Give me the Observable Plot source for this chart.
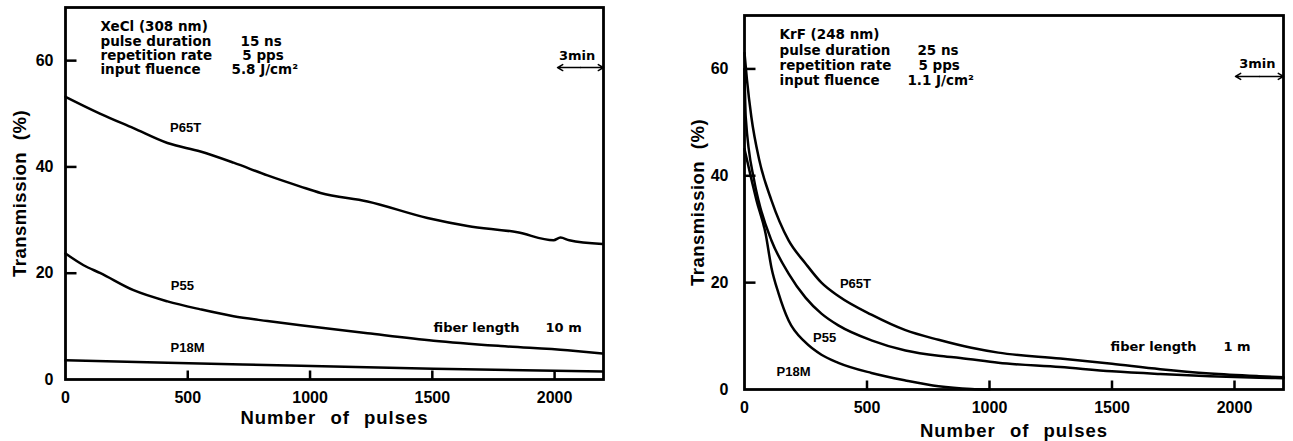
<!DOCTYPE html>
<html><head><meta charset="utf-8">
<script src="https://cdn.jsdelivr.net/npm/d3@7"></script>
<script src="https://cdn.jsdelivr.net/npm/@observablehq/plot@0.6"></script>
<style>
body{margin:0;background:#fff;}
#wrap{display:flex;width:1293px;height:441px;}
svg{overflow:visible;}
g[aria-label="x-axis label"] text{font-size:18.5px;letter-spacing:1px;word-spacing:8px;}
g[aria-label="y-axis label"] text{font-size:18.5px;letter-spacing:0.5px;word-spacing:6px;}
</style></head><body><div id="wrap"></div>
<script>
const xTicks = [0, 500, 1000, 1500, 2000];
const yTicks = [0, 20, 40, 60];
const seriesNames = ["P65T", "P55", "P18M"];

// Left panel: XeCl, fiber length 10 m
const xeclPulsesP65T = [0,70,143,278,417,552,687,826,961,1043,1235,1480,1644,1848,1996,2024,2060,2196];
const xeclP65T      = [53.2,51.6,50.0,47.3,44.5,42.9,40.8,38.4,36.3,35.1,33.5,30.4,28.9,27.7,26.2,26.7,26.2,25.5];
const xeclPulsesP55 = [0,74,143,278,417,552,687,826,961,1235,1505,1779,2053,2196];
const xeclP55       = [23.7,21.5,20.0,16.8,14.7,13.2,11.9,11.0,10.2,8.7,7.3,6.3,5.5,4.9];
const xeclPulsesP18M = [0,417,961,1505,2196];
const xeclP18M       = [3.6,3.15,2.6,2.0,1.5];

// Right panel: KrF, fiber length 1 m
const krfPulsesP65T = [0,10,28,60,110,180,249,314,383,518,657,792,926,1036,1289,1500,1697,1900,2100,2200];
const krfP65T       = [63,58,51,43,35.4,27.9,23.6,20.0,17.5,14.0,11.1,9.3,7.8,6.9,5.8,4.8,3.8,3.0,2.5,2.3];
const krfPulsesP55  = [0,5,40,57,110,180,249,314,383,518,657,792,881,1036,1289,1500,1697,1900,2100,2200];
const krfP55        = [60,51,39,35.4,27.9,21.7,17.2,14.2,12.0,9.2,7.3,6.3,5.9,5.0,4.2,3.4,2.9,2.5,2.2,2.1];
const krfPulsesP18M = [0,30,49,86,110,139,180,249,314,383,518,657,792,926,1000];
const krfP18M       = [45,39,35.4,29.2,22.8,18.0,12.9,8.8,6.5,5.0,3.1,1.7,0.6,0.1,0];

// Annotations
const xeclInfo = ["XeCl (308 nm)", "pulse duration", "repetition rate", "input fluence"];
const xeclInfoY = [66.4, 63.6, 61.0, 58.3];
const xeclValues = ["15 ns", "5 pps", "5.8 J/cm²"];
const xeclValuesX = [716, 723, 679];
const krfInfo = ["KrF (248 nm)", "pulse duration", "repetition rate", "input fluence"];
const krfInfoY = [66.5, 63.5, 60.7, 57.8];
const krfValues = ["25 ns", "5 pps", "1.1 J/cm²"];
const krfValuesX = [706, 710, 665];
const infoX = 143;

const xeclLabelX = [491, 478, 499], xeclLabelY = [47.4, 17.7, 6.0];
const krfLabelX = [453, 327, 200],  krfLabelY = [19.7, 9.7, 3.4];

const fiberText = "fiber length";
const xeclFiber = {x: 1505, vx: 1963, y: 9.8, v: "10 m"};
const krfFiber  = {x: 1494, vx: 1955, y: 7.9, v: "1 m"};
const xeclTimer = {tx: 2092, ty: 61.0, x1: 2012, x2: 2200, y: 58.7, t: "3min"};
const krfTimer  = {tx: 2093, ty: 61.0, x1: 2004, x2: 2200, y: 58.6, t: "3min"};

const X_MAX = 2200, Y_MAX = 70;

function rows(pulses, vals, name) { return pulses.map((p, i) => ({pulses: p, T: vals[i], series: name})); }

function panel(o) {
  const data = [
    ...rows(o.s[0][0], o.s[0][1], seriesNames[0]),
    ...rows(o.s[1][0], o.s[1][1], seriesNames[1]),
    ...rows(o.s[2][0], o.s[2][1], seriesNames[2])
  ];
  const info = o.info.map((t, i) => ({t, x: infoX, y: o.infoY[i]}));
  const vals = o.values.map((t, i) => ({t, x: o.valuesX[i], y: o.infoY[i + 1]}));
  const labs = seriesNames.map((t, i) => ({t, x: o.labX[i], y: o.labY[i]}));
  const wide = {fontFamily: "'DejaVu Sans', sans-serif", fontWeight: "bold", fill: "#000"};
  const innerW = o.width - o.ml - o.mr, innerH = 441 - o.mt - o.mb;
  // inward tick lengths (9 px and 11 px) expressed in data units
  const xTickLen = Y_MAX * 9 / innerH, yTickLen = X_MAX * 11 / innerW;
  const xt = xTicks.filter(d => d > 0).map(d => ({v: d, a: 0, b: xTickLen}));
  const yt = yTicks.filter(d => d > 0).map(d => ({v: d, a: 0, b: yTickLen}));
  const tm = o.timer, mid = (tm.x1 + tm.x2) / 2;
  const halves = [{x1: mid, x2: tm.x1, y: tm.y}, {x1: mid, x2: tm.x2, y: tm.y}];
  return Plot.plot({
    width: o.width, height: 441,
    marginLeft: o.ml, marginRight: o.mr, marginTop: o.mt, marginBottom: o.mb,
    style: {fontFamily: "'Liberation Sans', Arial, sans-serif", fontWeight: "bold", color: "#000", background: "#fff"},
    x: {domain: [0, X_MAX]},
    y: {domain: [0, Y_MAX]},
    marks: [
      Plot.axisX(xTicks, {tickSize: 0, tickPadding: 12, fontSize: 16, fontWeight: "bold", tickFormat: d => String(d),
        label: "Number of pulses", labelAnchor: "center", labelOffset: o.xlo, labelArrow: "none"}),
      Plot.axisY(yTicks, {tickSize: 0, tickPadding: o.ytp, fontSize: 16, fontWeight: "bold", tickFormat: d => String(d),
        label: "Transmission (%)", labelAnchor: "center", labelOffset: o.ylo, labelArrow: "none"}),
      Plot.frame({strokeWidth: 2.8, stroke: "#000"}),
      Plot.link(xt, {x1: "v", x2: "v", y1: "a", y2: "b", stroke: "#000", strokeWidth: 2.5}),
      Plot.link(yt, {y1: "v", y2: "v", x1: "a", x2: "b", stroke: "#000", strokeWidth: 2.5}),
      Plot.line(data, {x: "pulses", y: "T", z: "series", curve: "monotone-x", stroke: "#000", strokeWidth: 2.5}),
      Plot.text(labs, {x: "x", y: "y", text: "t", fontSize: 13, fontWeight: "bold", fill: "#000"}),
      Plot.text(info, {x: "x", y: "y", text: "t", textAnchor: "start", ...wide, fontSize: 13.5}),
      Plot.text(vals, {x: "x", y: "y", text: "t", textAnchor: "start", ...wide, fontSize: 13.5}),
      Plot.text([o.fiber], {x: "x", y: "y", text: () => fiberText, textAnchor: "start", ...wide, fontSize: 13}),
      Plot.text([o.fiber], {x: "vx", y: "y", text: "v", textAnchor: "start", ...wide, fontSize: 13}),
      Plot.text([tm], {x: "tx", y: "ty", text: "t", ...wide, fontSize: 13}),
      Plot.arrow(halves, {x1: "x1", x2: "x2", y1: "y", y2: "y", stroke: "#000", strokeWidth: 1.5, headLength: 6})
    ]
  });
}

const wrap = document.getElementById("wrap");
wrap.append(panel({
  s: [[xeclPulsesP65T, xeclP65T], [xeclPulsesP55, xeclP55], [xeclPulsesP18M, xeclP18M]],
  info: xeclInfo, infoY: xeclInfoY, values: xeclValues, valuesX: xeclValuesX,
  labX: xeclLabelX, labY: xeclLabelY, fiber: xeclFiber, timer: xeclTimer,
  width: 640, ml: 65, mr: 37, mt: 7, mb: 62, xlo: 44, ylo: 53, ytp: 12
}));
wrap.append(panel({
  s: [[krfPulsesP65T, krfP65T], [krfPulsesP55, krfP55], [krfPulsesP18M, krfP18M]],
  info: krfInfo, infoY: krfInfoY, values: krfValues, valuesX: krfValuesX,
  labX: krfLabelX, labY: krfLabelY, fiber: krfFiber, timer: krfTimer,
  width: 653, ml: 104, mr: 10, mt: 15, mb: 52, xlo: 47, ylo: 54, ytp: 16
}));
</script></body></html>
